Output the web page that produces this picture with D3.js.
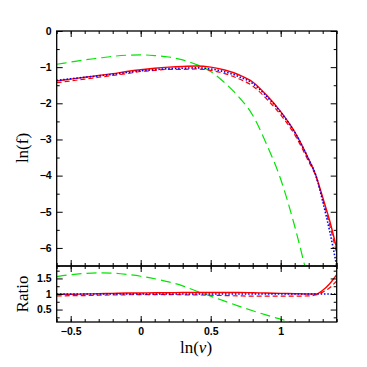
<!DOCTYPE html>
<html>
<head>
<meta charset="utf-8">
<script src="https://cdn.jsdelivr.net/npm/d3@7"></script>
<style>
body { margin: 0; background: #fff; }
</style>
</head>
<body>
<div id="chart"></div>
<script>
// values
var lnNu = [-0.6, -0.5, -0.4, -0.3, -0.2, -0.1, 0, 0.1, 0.2, 0.3, 0.4, 0.5, 0.6, 0.7, 0.8, 0.9, 1.0, 1.1, 1.2, 1.25, 1.3, 1.35, 1.4];

var fRedSolid  = [-1.38, -1.33, -1.28, -1.23, -1.18, -1.12, -1.07, -1.03, -1.00, -0.98, -0.97, -1.00, -1.08, -1.21, -1.41, -1.78, -2.23, -2.79, -3.55, -3.98, -4.60, -5.25, -6.02];
var fRedDashed = [-1.43, -1.38, -1.33, -1.28, -1.23, -1.18, -1.12, -1.09, -1.06, -1.06, -1.05, -1.09, -1.18, -1.32, -1.52, -1.88, -2.32, -2.87, -3.61, -4.01, -4.65, -5.36, -6.15];
var fBlue      = [-1.37, -1.32, -1.28, -1.24, -1.20, -1.15, -1.10, -1.07, -1.04, -1.03, -1.02, -1.05, -1.13, -1.26, -1.45, -1.81, -2.25, -2.80, -3.55, -3.98, -4.71, -5.54, -6.50];
var fGreen     = [-0.92, -0.86, -0.80, -0.75, -0.70, -0.67, -0.66, -0.68, -0.72, -0.80, -0.93, -1.12, -1.43, -1.82, -2.33, -3.14, -4.10, -5.40, -6.95, null, null, null, null];

var rRedSolid  = [0.99, 0.99, 1.00, 1.01, 1.02, 1.03, 1.03, 1.04, 1.04, 1.05, 1.05, 1.05, 1.05, 1.05, 1.04, 1.03, 1.02, 1.01, 1.00, 1.00, 1.12, 1.33, 1.62];
var rRedDashed = [0.94, 0.945, 0.95, 0.96, 0.97, 0.975, 0.98, 0.98, 0.98, 0.975, 0.97, 0.96, 0.95, 0.94, 0.93, 0.93, 0.93, 0.93, 0.94, 0.97, 1.06, 1.20, 1.42];
var rBlue      = [1, 1, 1, 1, 1, 1, 1, 1, 1, 1, 1, 1, 1, 1, 1, 1, 1, 1, 1, 1, 1, 1, 1];
var rGreen     = [1.56, 1.62, 1.66, 1.68, 1.67, 1.63, 1.57, 1.49, 1.39, 1.26, 1.09, 0.93, 0.77, 0.61, 0.46, 0.32, 0.19, 0.06, null, null, null, null, null];

var xMajor = [-0.5, 0, 0.5, 1];
var xMinor = d3.range(-6, 15).map(function(i) { return i / 10; });
var mainMajor = [0, -1, -2, -3, -4, -5, -6];
var mainMinor = [-0.5, -1.5, -2.5, -3.5, -4.5, -5.5, -6.5];
var ratioMajor = [0.5, 1, 1.5];
var ratioMinor = [0.25, 0.75, 1.25, 1.75];

var width = 367, height = 367;
var padLeft = 56.7, padRight = 336.7, yTop = 31, yMid = 266, yBottom = 322;

var svg = d3.select("#chart")
  .append("svg")
    .attr("width", width)
    .attr("height", height);

var x = d3.scaleLinear().domain([-0.6, 1.4]).range([padLeft, padRight]);
var yMain = d3.scaleLinear().domain([-6.5, 0]).range([yMid, yTop]);
var yRatio = d3.scaleLinear().domain([0.1, 1.9]).range([yBottom, yMid]);

var fmt = function(d) { return d3.format("")(d).replace("-", "\u2212"); };

var styles = {
  green:     { stroke: "#00e600", width: 1.2, dash: "10,5" },
  redDashed: { stroke: "#ff0000", width: 1.2, dash: "5,3" },
  redSolid:  { stroke: "#ff0000", width: 1.4, dash: null },
  blue:      { stroke: "#0000ff", width: 1.6, dash: "1.5,1.8" }
};

function drawPanel(name, y, y0, y1, yMaj, yMin, series, xLabels) {
  var g = svg.append("g");

  g.append("clipPath").attr("id", "clip-" + name)
    .append("rect")
      .attr("x", padLeft).attr("y", y1)
      .attr("width", padRight - padLeft).attr("height", y0 - y1);

  var line = d3.line()
      .defined(function(d) { return d[1] != null; })
      .x(function(d) { return x(d[0]); })
      .y(function(d) { return y(d[1]); })
      .curve(d3.curveMonotoneX);

  var lines = g.append("g").attr("clip-path", "url(#clip-" + name + ")");
  series.forEach(function(s) {
    var st = styles[s.style];
    lines.append("path")
      .datum(lnNu.map(function(v, i) { return [v, s.values[i]]; }))
      .attr("fill", "none")
      .attr("stroke", st.stroke)
      .attr("stroke-width", st.width)
      .attr("stroke-dasharray", st.dash)
      .attr("d", line);
  });

  // ticks pointing inward on all sides
  function axis(a, tr) {
    var ax = g.append("g").attr("transform", tr).call(a);
    ax.select(".domain").remove();
    ax.selectAll("line").attr("stroke", "#000").attr("stroke-width", 1);
    return ax;
  }
  var none = function() { return ""; };
  axis(d3.axisBottom(x).tickValues(xMajor).tickSize(-6).tickPadding(6).tickFormat(xLabels ? fmt : none), "translate(0," + y0 + ")");
  axis(d3.axisBottom(x).tickValues(xMinor).tickSize(-3).tickFormat(none), "translate(0," + y0 + ")");
  axis(d3.axisTop(x).tickValues(xMajor).tickSize(-6).tickFormat(none), "translate(0," + y1 + ")");
  axis(d3.axisTop(x).tickValues(xMinor).tickSize(-3).tickFormat(none), "translate(0," + y1 + ")");
  axis(d3.axisLeft(y).tickValues(yMaj).tickSize(-6).tickPadding(5).tickFormat(fmt), "translate(" + padLeft + ",0)");
  axis(d3.axisLeft(y).tickValues(yMin).tickSize(-3).tickFormat(none), "translate(" + padLeft + ",0)");
  axis(d3.axisRight(y).tickValues(yMaj).tickSize(-6).tickFormat(none), "translate(" + padRight + ",0)");
  axis(d3.axisRight(y).tickValues(yMin).tickSize(-3).tickFormat(none), "translate(" + padRight + ",0)");

  g.selectAll(".tick text")
    .attr("font-family", "'Liberation Sans', Arial, sans-serif")
    .attr("font-weight", "bold")
    .attr("font-size", 10.5)
    .attr("fill", "#000");

  g.append("rect")
    .attr("x", padLeft).attr("y", y1)
    .attr("width", padRight - padLeft).attr("height", y0 - y1)
    .attr("fill", "none")
    .attr("stroke", "#000")
    .attr("stroke-width", 1.3);
}

drawPanel("main", yMain, yMid, yTop, mainMajor, mainMinor, [
  { values: fGreen, style: "green" },
  { values: fRedDashed, style: "redDashed" },
  { values: fRedSolid, style: "redSolid" },
  { values: fBlue, style: "blue" }
], false);

drawPanel("ratio", yRatio, yBottom, yMid, ratioMajor, ratioMinor, [
  { values: rGreen, style: "green" },
  { values: rRedDashed, style: "redDashed" },
  { values: rRedSolid, style: "redSolid" },
  { values: rBlue, style: "blue" }
], true);

// axis titles
var serif = "'Liberation Serif', 'Times New Roman', serif";

svg.append("text")
  .attr("transform", "translate(28,148) rotate(-90)")
  .attr("text-anchor", "middle")
  .attr("font-family", serif)
  .attr("font-size", 17)
  .text("ln(f)");

svg.append("text")
  .attr("transform", "translate(28,294) rotate(-90)")
  .attr("text-anchor", "middle")
  .attr("font-family", serif)
  .attr("font-size", 17)
  .text("Ratio");

var xt = svg.append("text")
  .attr("x", 196).attr("y", 353)
  .attr("text-anchor", "middle")
  .attr("font-family", serif)
  .attr("font-size", 17);
xt.append("tspan").text("ln(");
xt.append("tspan").attr("font-style", "italic").text("\u03bd");
xt.append("tspan").text(")");
</script>
</body>
</html>
